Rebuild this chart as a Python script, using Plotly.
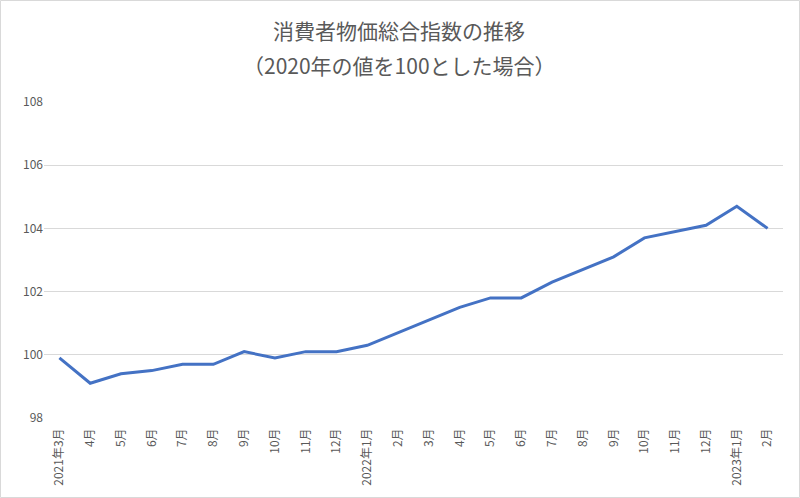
import plotly.graph_objects as go

# 消費者物価総合指数 (2020年=100)
months = [
    "2021年3月", "4月", "5月", "6月", "7月", "8月", "9月", "10月", "11月", "12月",
    "2022年1月", "2月", "3月", "4月", "5月", "6月", "7月", "8月", "9月", "10月",
    "11月", "12月", "2023年1月", "2月",
]
cpi = [
    99.9, 99.1, 99.4, 99.5, 99.7, 99.7, 100.1, 99.9, 100.1, 100.1,
    100.3, 100.7, 101.1, 101.5, 101.8, 101.8, 102.3, 102.7, 103.1, 103.7,
    103.9, 104.1, 104.7, 104.0,
]
y_ticks = [98, 100, 102, 104, 106, 108]
title_lines = ["消費者物価総合指数の推移", "（2020年の値を100とした場合）"]

W, H = 800, 498
M = {"l": 44, "r": 17, "t": 102, "b": 80}
FONT = "Noto Sans CJK JP"
GREY = "#595959"

pw = W - M["l"] - M["r"]
ph = H - M["t"] - M["b"]

fig = go.Figure(
    go.Scatter(
        x=list(range(len(months))),
        y=cpi,
        mode="lines",
        line={"color": "#4472C4", "width": 3},
        hoverinfo="y",
    )
)

# thin frame around the whole chart area
fig.add_shape(
    type="rect",
    xref="paper",
    yref="paper",
    x0=-(M["l"] - 0.5) / pw,
    x1=1 + (M["r"] - 0.5) / pw,
    y0=-(M["b"] - 0.5) / ph,
    y1=1 + (M["t"] - 0.5) / ph,
    line={"color": "#D9D9D9", "width": 1},
    layer="below",
)

# two title lines, centred on the whole chart at about 30px and 65px from the top
for line, py in zip(title_lines, [30, 65]):
    fig.add_annotation(
        text=line,
        xref="paper",
        yref="paper",
        x=(W / 2 - 1 - M["l"]) / pw,
        y=1 + (M["t"] - py) / ph,
        xanchor="center",
        yanchor="middle",
        showarrow=False,
        font={"family": FONT, "size": 21, "color": GREY},
    )

fig.update_layout(
    width=W,
    height=H,
    margin=M,
    paper_bgcolor="white",
    plot_bgcolor="white",
    showlegend=False,
    font={"family": FONT, "color": GREY, "size": 12},
    xaxis={
        "tickmode": "array",
        "tickvals": list(range(len(months))),
        "ticktext": months,
        "tickangle": -90,
        "range": [-0.5, len(months) - 0.5],
        "showgrid": False,
        "zeroline": False,
        "showline": False,
        "ticks": "",
        "ticklabelstandoff": 7,
        "tickfont": {"size": 12, "color": GREY},
    },
    yaxis={
        "range": [98, 108],
        "tickvals": y_ticks,
        "showgrid": True,
        "gridcolor": "#D9D9D9",
        "gridwidth": 1,
        "zeroline": False,
        "showline": False,
        "ticks": "",
        "tickfont": {"size": 12, "color": GREY},
    },
)

fig.write_html(
    "out.html",
    config={"displayModeBar": False},
    post_script="document.body.style.margin='0';",
)
